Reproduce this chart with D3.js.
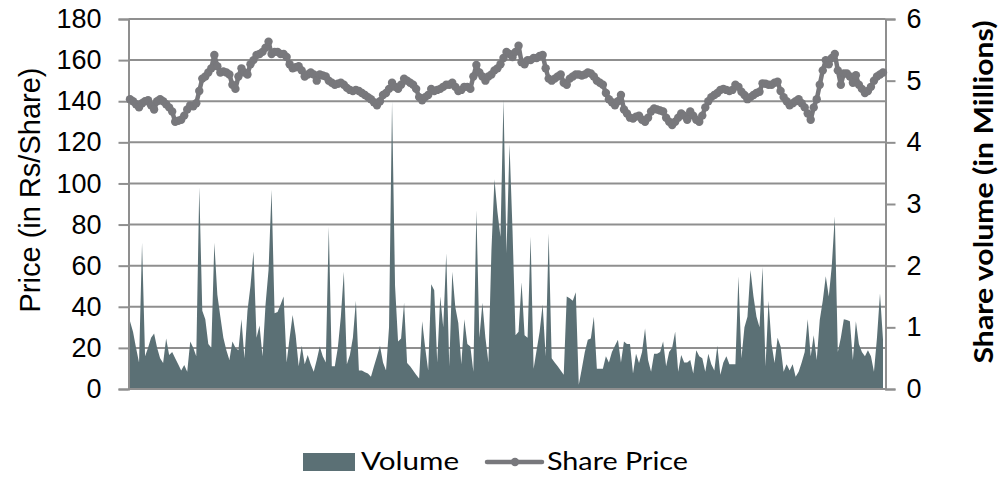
<!DOCTYPE html>
<html>
<head>
<meta charset="utf-8">
<script src="https://cdn.jsdelivr.net/npm/d3@7"></script>
<style>
  html, body { margin: 0; padding: 0; background: #fff; }
  svg { display: block; }
</style>
</head>
<body>
<svg id="chart" width="1005" height="477"></svg>
<script>
// ---- data ----
const priceTicks = [0, 20, 40, 60, 80, 100, 120, 140, 160, 180];
const volumeTicks = [0, 1, 2, 3, 4, 5, 6];
const seriesNames = ["Volume", "Share Price"];

// Share price (Rs/share), one value per trading day
const sharePrice = [
  141, 140, 138.5, 137, 139, 140, 140.5, 138, 136, 140,
  141, 140, 138.5, 137, 135, 130, 130.5, 131, 133, 136,
  138, 137.5, 139, 145, 151, 152, 154, 156, 162.5, 157,
  154, 154.5, 154, 153, 148, 146, 152, 156, 154, 153,
  158, 160, 162.5, 163, 164, 166, 169, 163, 164, 164,
  163, 163, 161.5, 158, 156, 156.5, 157, 155, 152, 153,
  154, 153, 150, 153, 152.5, 152, 150, 149, 148, 148.5,
  149, 148, 146.5, 145.5, 145, 145.5, 145, 144, 143, 142,
  141, 139.5, 138, 140, 143, 144, 146, 149, 147, 146,
  148, 151, 150, 149, 148, 146, 142, 140.5, 142, 143,
  146, 145, 145.5, 146, 147, 148, 148, 149, 147, 145,
  145.5, 147, 147, 146, 152, 157.6, 154, 152, 150, 152,
  153, 155, 156, 158, 161, 164, 163, 161.5, 164, 167,
  159, 158, 160, 160, 161, 161, 162, 162.5, 156, 151,
  150, 151, 152, 153, 149, 148, 151, 152, 153, 153,
  152.5, 153, 154, 153.5, 152, 150, 149, 148, 144, 141,
  139.5, 138, 140, 143, 136, 134, 132, 131.6, 132.5, 133,
  131, 130, 132, 135, 136.5, 136, 135.5, 135, 132, 130,
  128.4, 130, 132, 134, 133, 131, 135, 133, 131, 130,
  133, 137, 140, 142, 143, 144, 145.5, 146, 145.5, 145,
  145.5, 148, 147, 144.6, 143, 141, 142, 143, 144, 144.6,
  148.7, 148.5, 148, 148, 149, 149.5, 145, 142, 140, 138,
  139, 140, 141, 139, 137, 134, 131, 137, 141, 148,
  155, 160, 158, 161, 163, 155, 148, 153.5, 153.5, 152,
  149, 152.6, 148, 146, 144, 145, 147, 150, 152, 153,
  154
];

// Share volume (millions), one value per trading day
const shareVolume = [
  1.10, 0.93, 0.67, 0.43, 2.37, 0.53, 0.67, 0.83, 0.90, 0.67,
  0.50, 0.42, 0.82, 0.55, 0.60, 0.50, 0.40, 0.30, 0.39, 0.28,
  0.77, 0.67, 0.53, 3.27, 1.27, 1.13, 0.73, 0.67, 2.37, 1.53,
  1.17, 0.83, 0.63, 0.47, 0.77, 0.67, 0.63, 1.13, 0.50, 1.27,
  1.67, 2.23, 0.83, 1.03, 0.53, 1.37, 1.93, 3.23, 1.23, 1.25,
  1.37, 1.50, 0.43, 0.83, 1.20, 0.87, 0.37, 0.70, 0.40, 0.55,
  0.40, 0.28, 0.47, 0.69, 0.53, 0.43, 2.63, 0.37, 0.37, 0.67,
  1.17, 1.90, 0.40, 0.55, 0.83, 1.43, 0.30, 0.30, 0.27, 0.25,
  0.20, 0.37, 0.53, 0.70, 0.43, 0.30, 1.00, 4.67, 1.67, 0.77,
  0.82, 1.40, 0.42, 0.37, 0.30, 0.23, 0.17, 1.10, 0.67, 0.30,
  1.70, 1.60, 0.43, 1.50, 1.00, 2.20, 0.37, 1.90, 1.33, 1.07,
  0.40, 1.13, 0.73, 0.69, 0.28, 2.90, 0.83, 1.40, 0.83, 0.43,
  2.25, 3.40, 2.87, 2.47, 4.70, 2.20, 3.97, 2.57, 0.87, 0.93,
  1.73, 0.87, 0.83, 2.47, 0.33, 0.63, 0.93, 1.37, 0.53, 2.52,
  0.50, 0.43, 0.37, 0.30, 0.23, 1.50, 1.47, 1.43, 1.57, 0.07,
  0.33, 0.60, 0.80, 0.82, 1.17, 0.33, 0.33, 0.33, 0.53, 0.43,
  0.60, 0.70, 0.80, 0.43, 0.77, 0.73, 0.73, 0.25, 0.57, 0.42,
  0.60, 0.98, 0.47, 0.28, 0.57, 0.57, 0.60, 0.77, 0.37, 0.60,
  0.67, 0.93, 0.28, 0.55, 0.43, 0.43, 0.47, 0.25, 0.63, 0.53,
  0.50, 0.28, 0.57, 0.40, 0.30, 0.70, 0.23, 0.43, 0.53, 0.40,
  0.40, 0.40, 1.83, 0.50, 1.00, 1.17, 1.93, 1.50, 1.17, 1.00,
  1.98, 0.37, 1.43, 0.73, 0.42, 0.83, 0.69, 0.28, 0.40, 0.30,
  0.40, 0.20, 0.28, 0.43, 0.60, 1.13, 0.53, 0.87, 0.47, 1.12,
  1.43, 1.83, 1.50, 2.00, 2.80, 0.60, 0.83, 1.13, 1.12, 1.10,
  0.47, 1.10, 0.73, 0.60, 0.53, 0.63, 0.53, 0.28, 0.83, 1.55,
  0.80
];

const days = d3.range(sharePrice.length);

// ---- layout ----
const svg = d3.select("#chart");
const plot = { left: 128.5, right: 885.5, top: 19, bottom: 389 };
const colVolume = "#5b7075";
const colPrice = "#78787c";
const colGrid = "#8f8f8f";

const x = d3.scaleLinear().domain([0, days.length - 1]).range([130, 883]);
const yL = d3.scaleLinear().domain([0, 180]).range([plot.bottom, plot.top]);
const yR = d3.scaleLinear().domain([0, 6]).range([plot.bottom, plot.top]);

// gridlines
svg.append("g")
  .selectAll("line")
  .data(priceTicks)
  .join("line")
  .attr("x1", plot.left).attr("x2", plot.right)
  .attr("y1", d => yL(d)).attr("y2", d => yL(d))
  .attr("stroke", colGrid).attr("stroke-width", 2);

// volume area
const area = d3.area()
  .x((d, i) => x(i))
  .y0(yR(0))
  .y1(d => yR(d));
svg.append("path")
  .datum(shareVolume)
  .attr("d", area)
  .attr("fill", colVolume);

// axes
const axisFont = "'Liberation Sans', Arial, sans-serif";
const gL = svg.append("g")
  .attr("transform", `translate(${plot.left},0)`)
  .call(d3.axisLeft(yL).tickValues(priceTicks).tickSize(10).tickPadding(17));
const gR = svg.append("g")
  .attr("transform", `translate(${plot.right},0)`)
  .call(d3.axisRight(yR).tickValues(volumeTicks).tickSize(10).tickPadding(11).tickFormat(d3.format("d")));
[gL, gR].forEach(g => {
  g.select(".domain").attr("stroke", colGrid).attr("stroke-width", 2);
  g.selectAll(".tick line").attr("stroke", colGrid).attr("stroke-width", 2);
  g.selectAll(".tick text")
    .attr("fill", "#000")
    .style("font-family", axisFont)
    .style("font-size", "27px");
});
// bottom axis line
svg.append("line")
  .attr("x1", plot.left).attr("x2", plot.right)
  .attr("y1", plot.bottom).attr("y2", plot.bottom)
  .attr("stroke", colGrid).attr("stroke-width", 2);

// price line
const line = d3.line()
  .x((d, i) => x(i))
  .y(d => yL(d));
svg.append("path")
  .datum(sharePrice)
  .attr("d", line)
  .attr("fill", "none")
  .attr("stroke", colPrice)
  .attr("stroke-width", 4.5)
  .attr("stroke-linejoin", "round");
svg.append("g")
  .selectAll("circle")
  .data(sharePrice)
  .join("circle")
  .attr("cx", (d, i) => x(i))
  .attr("cy", d => yL(d))
  .attr("r", 4.2)
  .attr("fill", colPrice);

// axis titles
svg.append("text")
  .attr("transform", "translate(40,190) rotate(-90)")
  .attr("text-anchor", "middle")
  .style("font-family", axisFont)
  .style("font-size", "29px")
  .attr("fill", "#000")
  .text("Price (in Rs/Share)");

svg.append("text")
  .attr("transform", "translate(993,192) rotate(-90)")
  .attr("text-anchor", "middle")
  .attr("textLength", 343)
  .attr("lengthAdjust", "spacingAndGlyphs")
  .style("font-family", "Lato, 'Open Sans', sans-serif")
  .style("font-weight", "bold")
  .style("font-size", "27px")
  .attr("fill", "#000")
  .text("Share volume (in Millions)");

// legend
const legend = svg.append("g").style("font-family", "Lato, 'Open Sans', sans-serif").style("font-size", "25px");
legend.append("rect")
  .attr("x", 303).attr("y", 453).attr("width", 52).attr("height", 18)
  .attr("fill", colVolume);
legend.append("text")
  .attr("x", 361).attr("y", 470)
  .attr("textLength", 98).attr("lengthAdjust", "spacingAndGlyphs")
  .attr("fill", "#000")
  .text(seriesNames[0]);
legend.append("line")
  .attr("x1", 487).attr("x2", 542).attr("y1", 462).attr("y2", 462)
  .attr("stroke", colPrice).attr("stroke-width", 4.5).attr("stroke-linecap", "round");
legend.append("circle")
  .attr("cx", 515).attr("cy", 462).attr("r", 4.2).attr("fill", colPrice);
legend.append("text")
  .attr("x", 547).attr("y", 470)
  .attr("textLength", 141).attr("lengthAdjust", "spacingAndGlyphs")
  .attr("fill", "#000")
  .text(seriesNames[1]);
</script>
</body>
</html>
